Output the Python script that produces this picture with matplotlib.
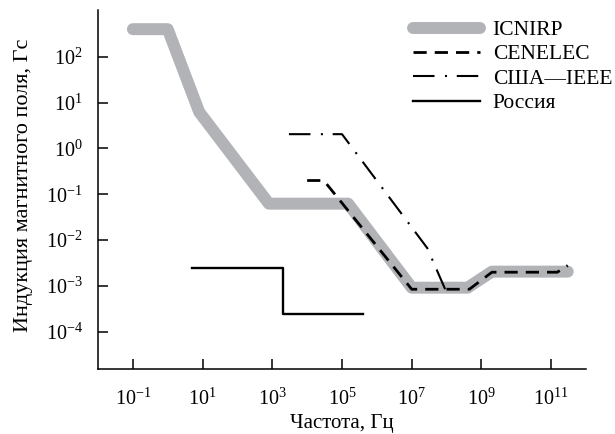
import matplotlib
matplotlib.use("Agg")
import matplotlib.pyplot as plt
from matplotlib.ticker import NullLocator

plt.rcParams['font.family'] = ['Liberation Serif', 'DejaVu Serif']
plt.rcParams['mathtext.fontset'] = 'custom'
plt.rcParams['mathtext.rm'] = 'Liberation Serif'
plt.rcParams['mathtext.it'] = 'Liberation Serif:italic'
plt.rcParams['mathtext.bf'] = 'Liberation Serif:bold'
plt.rcParams['lines.scale_dashes'] = False

# Data (frequency in Hz, magnetic induction in Gs)
icnirp_f = [0.1, 1, 8, 800, 1.5e5, 1e7, 4e8, 2e9, 3e11]
icnirp_b = [400, 400, 6.25, 0.0625, 0.0625, 9.2e-4, 9.2e-4, 2.06e-3, 2.06e-3]

cenelec_f = [1e4, 3e4, 1e7, 4.5e8, 2e9, 1.5e11, 3e11]
cenelec_b = [0.2, 0.2, 8.5e-4, 8.5e-4, 2.0e-3, 2.0e-3, 2.8e-3]

ieee_f = [3e3, 1e5, 2.8e7, 9.3e7]
ieee_b = [2.05, 2.05, 6.7e-3, 8.2e-4]

russia_f = [5, 2e3, 2e3, 4e5]
russia_b = [2.5e-3, 2.5e-3, 2.5e-4, 2.5e-4]

xticks = [1e-1, 1e1, 1e3, 1e5, 1e7, 1e9, 1e11]
yticks = [1e-4, 1e-3, 1e-2, 1e-1, 1e0, 1e1, 1e2]

labels = ["ICNIRP", "CENELEC", "США—IEEE", "Россия"]
xlabel = "Частота, Гц"
ylabel = "Индукция магнитного поля, Гс"

fig = plt.figure(figsize=(6.15, 4.34), dpi=100)
ax = fig.add_axes([98/615, 1-369/434, (586-98)/615, (369-10)/434])

ax.plot(icnirp_f, icnirp_b, color='#b2b3b7', lw=8.6,
        solid_capstyle='round', solid_joinstyle='round', label=labels[0])
ax.plot(cenelec_f, cenelec_b, color='black', lw=2.0,
        dashes=(9.5, 5.8), label=labels[1])
ax.plot(ieee_f, ieee_b, color='black', lw=1.5,
        dashes=(15.5, 7.5, 1.5, 7.0), label=labels[2])
ax.plot(russia_f, russia_b, color='black', lw=1.7, label=labels[3])

ax.set_xscale('log')
ax.set_yscale('log')
ax.set_xlim(1e-2, 1e12)
ax.set_ylim(10**-4.81, 10**3.02)
ax.set_xticks(xticks)
ax.set_yticks(yticks)
ax.xaxis.set_minor_locator(NullLocator())
ax.yaxis.set_minor_locator(NullLocator())

for s in ['top', 'right']:
    ax.spines[s].set_visible(False)
for s in ['left', 'bottom']:
    ax.spines[s].set_linewidth(1.1)

ax.tick_params(axis='both', which='major', direction='in', length=7.5,
               width=1.1, labelsize=14.5)
ax.tick_params(axis='x', pad=14)
ax.tick_params(axis='y', pad=11)

ax.set_xlabel(xlabel, fontsize=15)
ax.set_ylabel(ylabel, fontsize=16)
ax.xaxis.set_label_coords(0.5, -(414-369)/359)
ax.yaxis.set_label_coords(-(98-33)/488, (369-185)/359)

leg = ax.legend(loc='upper left', bbox_to_anchor=(413/615, 1-20/434),
                bbox_transform=fig.transFigure, frameon=False,
                fontsize=15.5, handlelength=3.1, handletextpad=0.6,
                labelspacing=0.2, borderpad=0, borderaxespad=0)

fig.savefig("out.png", dpi=100)
